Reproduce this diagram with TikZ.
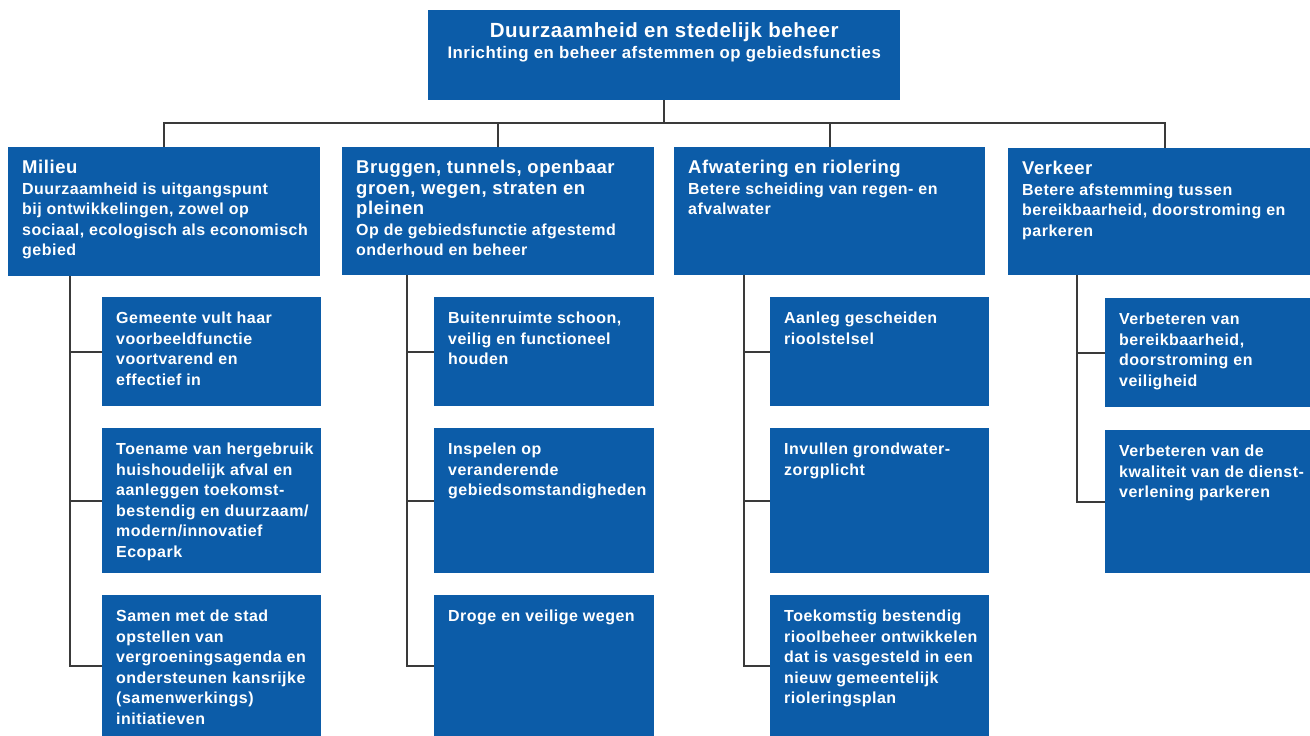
\documentclass[tikz,border=0pt]{standalone}
\usepackage{fontspec}
\setmainfont{Liberation Sans}[LetterSpace=3]
\usetikzlibrary{positioning}
\definecolor{vakblauw}{RGB}{12,92,168}
\definecolor{lijngrijs}{RGB}{58,58,58}
% tekst bovenaan in een vak van vaste maat (breedte, hoogte)
\newcommand{\vaktekst}[3]{\parbox[c][\dimexpr#2pt-24pt\relax][t]{\dimexpr#1pt-28pt\relax}{\begin{tabular}[t]{@{}l@{}}#3\end{tabular}}}
\newcommand{\kop}[1]{{\fontsize{18.5}{21}\selectfont #1}}
\tikzset{
  vak/.style={fill=vakblauw, text=white, anchor=north west, inner xsep=14pt, inner ysep=12pt,
    font=\bfseries\fontsize{16}{20.5}\selectfont},
  lijn/.style={draw=lijngrijs, line width=1.6pt}
}

\begin{document}
\begin{tikzpicture}[x=1pt, y=-1pt]
  \useasboundingbox (0,0) rectangle (1310,736);
  \node[vak] (top) at (428,10) {\parbox[c][66pt][t]{444pt}{\centering
    \begin{tabular}[t]{@{}c@{}}{\fontsize{20.5}{21}\selectfont Duurzaamheid en stedelijk beheer}\\[1pt]
    {\fontsize{16.8}{20}\selectfont Inrichting en beheer afstemmen op gebiedsfuncties}\end{tabular}}};

  \node[vak] (milieu) at (8,147) {\vaktekst{312}{129}{\kop{Milieu}\\
    Duurzaamheid is uitgangspunt\\ bij ontwikkelingen, zowel op\\
    sociaal, ecologisch als economisch\\ gebied}};
  \node[vak] (bruggen) at (342,147) {\vaktekst{312}{128}{\kop{Bruggen, tunnels, openbaar}\\
    \kop{groen, wegen, straten en}\\ \kop{pleinen}\\
    Op de gebiedsfunctie afgestemd\\ onderhoud en beheer}};
  \node[vak] (afwatering) at (674,147) {\vaktekst{311}{128}{\kop{Afwatering en riolering}\\
    Betere scheiding van regen- en\\ afvalwater}};
  \node[vak] (verkeer) at (1008,148) {\vaktekst{314}{127}{\kop{Verkeer}\\
    Betere afstemming tussen\\ bereikbaarheid, doorstroming en\\ parkeren}};

  % milieu
  \node[vak] (m1) at (102,297) {\vaktekst{219}{109}{Gemeente vult haar\\ voorbeeldfunctie\\ voortvarend en\\ effectief in}};
  \node[vak] (m2) at (102,428) {\vaktekst{219}{145}{Toename van hergebruik\\ huishoudelijk afval en\\
    aanleggen toekomst-\\ bestendig en duurzaam/\\ modern/innovatief\\ Ecopark}};
  \node[vak] (m3) at (102,595) {\vaktekst{219}{141}{Samen met de stad\\ opstellen van\\
    vergroeningsagenda en\\ ondersteunen kansrijke\\ (samenwerkings)\\ initiatieven}};
  % bruggen
  \node[vak] (b1) at (434,297) {\vaktekst{220}{109}{Buitenruimte schoon,\\ veilig en functioneel\\ houden}};
  \node[vak] (b2) at (434,428) {\vaktekst{220}{145}{Inspelen op\\ veranderende\\ gebiedsomstandigheden}};
  \node[vak] (b3) at (434,595) {\vaktekst{220}{141}{Droge en veilige wegen}};
  % afwatering
  \node[vak] (a1) at (770,297) {\vaktekst{219}{109}{Aanleg gescheiden\\ rioolstelsel}};
  \node[vak] (a2) at (770,428) {\vaktekst{219}{145}{Invullen grondwater-\\ zorgplicht}};
  \node[vak] (a3) at (770,595) {\vaktekst{219}{141}{Toekomstig bestendig\\ rioolbeheer ontwikkelen\\
    dat is vasgesteld in een\\ nieuw gemeentelijk\\ rioleringsplan}};
  % verkeer
  \node[vak] (v1) at (1105,298) {\vaktekst{219}{109}{Verbeteren van\\ bereikbaarheid,\\ doorstroming en\\ veiligheid}};
  \node[vak] (v2) at (1105,430) {\vaktekst{219}{143}{Verbeteren van de\\ kwaliteit van de dienst-\\ verlening parkeren}};

  % lijnen
  \coordinate (bus) at (0,123);
  \draw[lijn] (top.south) -- (top.south |- bus);
  \draw[lijn] (milieu.north) |- (verkeer.north |- bus) -- (verkeer.north);
  \draw[lijn] (bruggen.north) -- (bruggen.north |- bus);
  \draw[lijn] (afwatering.north) -- (afwatering.north |- bus);

  \coordinate (mstam) at (70,0);
  \coordinate (bstam) at (407,0);
  \coordinate (astam) at (744,0);
  \coordinate (vstam) at (1077,0);
  \draw[lijn] (milieu.south -| mstam) |- (m3.west);
  \draw[lijn] (m1.west -| mstam) -- (m1.west);
  \draw[lijn] (m2.west -| mstam) -- (m2.west);
  \draw[lijn] (bruggen.south -| bstam) |- (b3.west);
  \draw[lijn] (b1.west -| bstam) -- (b1.west);
  \draw[lijn] (b2.west -| bstam) -- (b2.west);
  \draw[lijn] (afwatering.south -| astam) |- (a3.west);
  \draw[lijn] (a1.west -| astam) -- (a1.west);
  \draw[lijn] (a2.west -| astam) -- (a2.west);
  \draw[lijn] (verkeer.south -| vstam) |- (v2.west);
  \draw[lijn] (v1.west -| vstam) -- (v1.west);
\end{tikzpicture}
\end{document}
